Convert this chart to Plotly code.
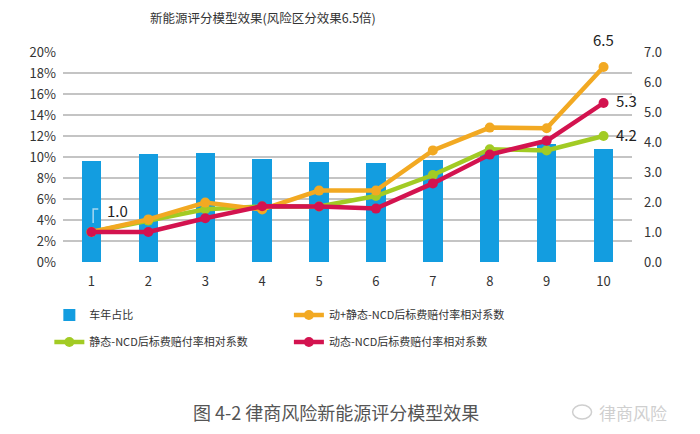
import plotly.graph_objects as go

categories = ["1", "2", "3", "4", "5", "6", "7", "8", "9", "10"]
share_pct = [0.096, 0.103, 0.104, 0.098, 0.095, 0.094, 0.097, 0.105, 0.112, 0.108]
dyn_static = [1.0, 1.42, 1.98, 1.75, 2.38, 2.38, 3.72, 4.48, 4.46, 6.5]
static_only = [1.0, 1.38, 1.76, 1.85, 1.85, 2.2, 2.9, 3.76, 3.72, 4.2]
dyn_only = [1.0, 1.0, 1.46, 1.86, 1.85, 1.78, 2.62, 3.58, 4.04, 5.3]

names = ["车年占比", "静态-NCD后标费赔付率相对系数", "动+静态-NCD后标费赔付率相对系数", "动态-NCD后标费赔付率相对系数"]
title_text = "新能源评分模型效果(风险区分效果6.5倍)"
caption_text = "图 4-2 律商风险新能源评分模型效果"
watermark_text = "律商风险"

BLUE = "#139DE0"
ORANGE = "#F2A922"
GREEN = "#A2CB24"
RED = "#D3134F"
FONT = "Noto Sans CJK SC"
xs = list(range(1, 11))

fig = go.Figure()
fig.add_trace(go.Bar(x=xs, y=share_pct, name=names[0], marker=dict(color=BLUE, line=dict(width=0)),
                     width=0.34, yaxis="y", legend="legend"))
fig.add_trace(go.Scatter(x=xs, y=static_only, name=names[1], mode="lines+markers",
                         line=dict(color=GREEN, width=4.5), marker=dict(size=10, color=GREEN),
                         yaxis="y2", legend="legend2"))
fig.add_trace(go.Scatter(x=xs, y=dyn_static, name=names[2], mode="lines+markers",
                         line=dict(color=ORANGE, width=4.5), marker=dict(size=10, color=ORANGE),
                         yaxis="y2", legend="legend3"))
fig.add_trace(go.Scatter(x=xs, y=dyn_only, name=names[3], mode="lines+markers",
                         line=dict(color=RED, width=4.5), marker=dict(size=10, color=RED),
                         yaxis="y2", legend="legend4"))

leg = dict(bgcolor="rgba(0,0,0,0)", borderwidth=0, font=dict(family=FONT, size=11, color="#333"),
           xanchor="left", yanchor="middle", itemclick=False)
fig.update_layout(
    legend=dict(leg, x=-0.024, y=-0.252),
    legend2=dict(leg, x=-0.024, y=-0.381),
    legend3=dict(leg, x=0.397, y=-0.252),
    legend4=dict(leg, x=0.397, y=-0.381),
)

fig.update_layout(
    width=700, height=434,
    margin=dict(l=62.5, r=67.5, t=52, b=172),
    paper_bgcolor="white", plot_bgcolor="white",
    font=dict(family=FONT, color="#333"),
    showlegend=True,
    bargap=0,
    xaxis=dict(tickmode="array", tickvals=xs, ticktext=categories, range=[0.5, 10.5],
               showgrid=False, zeroline=False, showline=False, ticks="",
               tickfont=dict(size=13, color="#333"), ticklabelstandoff=10),
    yaxis=dict(range=[0, 0.20], dtick=0.02, tickformat=".0%", showgrid=True,
               gridcolor="#C4C4C4", gridwidth=1.5, zeroline=False, showline=False, ticks="",
               tickfont=dict(size=13, color="#333"), ticklabelstandoff=6),
    yaxis2=dict(range=[0, 7], dtick=1, tickformat=".1f", overlaying="y", side="right",
                showgrid=False, zeroline=False, showline=False, ticks="",
                tickfont=dict(size=13, color="#333"), ticklabelstandoff=11),
)

fig.add_annotation(text=title_text, xref="paper", yref="paper", x=(263 - 62.5) / 570, y=1 + (52 - 18) / 210,
                   xanchor="center", yanchor="middle", showarrow=False,
                   font=dict(family=FONT, size=12.5, color="#333"))

# value labels
fig.add_annotation(text=f"{dyn_static[-1]:.1f}", x=10, y=dyn_static[-1], xref="x", yref="y2",
                   yshift=28, showarrow=False, font=dict(family=FONT, size=15, color="#222"))
fig.add_annotation(text=f"{dyn_only[-1]:.1f}", x=10, y=dyn_only[-1], xref="x", yref="y2",
                   xanchor="left", xshift=10, yshift=3, showarrow=False, font=dict(family=FONT, size=15, color="#222"))
fig.add_annotation(text=f"{static_only[-1]:.1f}", x=10, y=static_only[-1], xref="x", yref="y2",
                   xanchor="left", xshift=10, yshift=2, showarrow=False, font=dict(family=FONT, size=15, color="#222"))
fig.add_annotation(text=f"{dyn_only[0]:.1f}", x=1.24, y=dyn_only[0] + 0.73, xref="x", yref="y2",
                   xanchor="left", showarrow=False, font=dict(family=FONT, size=15, color="#222"))
fig.add_shape(type="path", xref="x", yref="y2",
              path=f"M 1.03 {dyn_only[0] + 0.3} L 1.03 {dyn_only[0] + 0.77} L 1.12 {dyn_only[0] + 0.77}",
              line=dict(color="#A8D8F0", width=1.5))

fig.add_annotation(text=caption_text, xref="paper", yref="paper", x=(191 - 62.5) / 570, y=-(412 - 262) / 210,
                   xanchor="left", yanchor="middle", showarrow=False,
                   font=dict(family=FONT, size=18, color="#555"))
fig.add_annotation(text=watermark_text, xref="paper", yref="paper", x=(597 - 62.5) / 570, y=-(412 - 262) / 210,
                   xanchor="left", yanchor="middle", showarrow=False,
                   font=dict(family=FONT, size=17, color="#CFCFCF"))
fig.add_shape(type="circle", xref="paper", yref="paper",
              x0=(573 - 62.5) / 570, x1=(592 - 62.5) / 570, y0=-(419 - 262) / 210, y1=-(405 - 262) / 210,
              line=dict(color="#CFCFCF", width=1.5))

fig.write_html("out.html")
